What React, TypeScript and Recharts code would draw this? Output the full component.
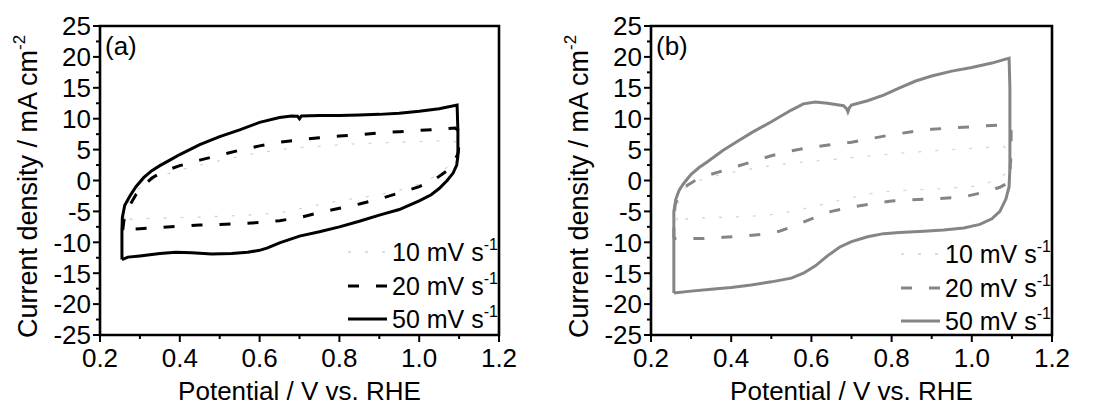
import React from 'react';
import { LineChart, Line, XAxis, YAxis, ReferenceArea, Legend } from 'recharts';

type Pt = [number, number];

// ---- tick values ----
const potentialTicks = [0.2, 0.3, 0.4, 0.5, 0.6, 0.7, 0.8, 0.9, 1.0, 1.1, 1.2];
const currentTicks = [-25, -22.5, -20, -17.5, -15, -12.5, -10, -7.5, -5, -2.5, 0, 2.5, 5, 7.5, 10, 12.5, 15, 17.5, 20, 22.5, 25];
const scanRates = ['10 mV s', '20 mV s', '50 mV s'];
const panelLabels = ['(a)', '(b)'];
const xTitle = 'Potential / V vs. RHE';
const yTitle = 'Current density / mA cm';

// ---- panel (a) : [potential V, current density mA cm-2] ----
const a10: Pt[] = [
  [0.262, -6.3], [0.262, -5], [0.27, -3.5], [0.29, -1.6], [0.32, -0.2], [0.36, 0.9], [0.4, 1.7], [0.45, 2.5],
  [0.5, 3.2], [0.55, 3.9], [0.6, 4.5], [0.65, 5.0], [0.7, 5.3], [0.8, 5.8], [0.9, 6.1], [1.0, 6.3], [1.08, 6.5],
  [1.1, 6.0], [1.1, 4.5], [1.08, 2.8], [1.05, 1.0], [1.0, -0.6], [0.95, -1.6], [0.9, -2.3], [0.85, -2.8],
  [0.8, -3.3], [0.75, -3.9], [0.7, -4.6], [0.65, -5.2], [0.6, -5.5], [0.5, -5.8], [0.4, -6.0], [0.3, -6.2], [0.262, -6.3],
];
const a20: Pt[] = [
  [0.257, -8], [0.26, -6.5], [0.27, -4.5], [0.29, -2.3], [0.31, -0.8], [0.33, 0.4], [0.36, 1.5], [0.4, 2.4],
  [0.45, 3.3], [0.5, 4.1], [0.55, 4.9], [0.6, 5.6], [0.65, 6.2], [0.7, 6.6], [0.75, 6.9], [0.8, 7.2], [0.85, 7.4],
  [0.9, 7.7], [0.95, 7.9], [1.0, 8.1], [1.05, 8.3], [1.09, 8.5], [1.1, 8], [1.1, 6.5], [1.098, 4.5],
  [1.09, 3.3], [1.07, 1.6], [1.04, 0.2], [1.0, -1.0], [0.95, -2.0], [0.9, -3.0], [0.85, -3.8], [0.8, -4.5],
  [0.75, -5.2], [0.7, -6.0], [0.65, -6.5], [0.6, -6.8], [0.55, -7.0], [0.5, -7.1], [0.45, -7.2], [0.4, -7.4],
  [0.35, -7.6], [0.3, -7.8], [0.257, -8],
];
const a50: Pt[] = [
  [0.255, -12.8], [0.255, -8], [0.256, -6], [0.262, -4], [0.275, -2.5], [0.29, -1], [0.31, 0.5], [0.33, 1.6],
  [0.35, 2.4], [0.375, 3.3], [0.4, 4.2], [0.45, 5.8], [0.5, 7.1], [0.55, 8.2], [0.6, 9.4], [0.65, 10.2],
  [0.68, 10.45], [0.695, 10.4], [0.7, 10.0], [0.705, 10.45], [0.75, 10.5], [0.8, 10.5], [0.85, 10.6], [0.9, 10.7],
  [0.95, 10.9], [1.0, 11.2], [1.05, 11.6], [1.095, 12.2], [1.097, 8], [1.097, 4], [1.094, 2.5], [1.085, 1.2],
  [1.07, 0], [1.05, -1.3], [1.03, -2.3], [1.0, -3.3], [0.95, -4.7], [0.9, -5.6], [0.85, -6.6], [0.8, -7.5],
  [0.75, -8.3], [0.7, -9.0], [0.65, -10.1], [0.62, -10.9], [0.6, -11.3], [0.57, -11.6], [0.53, -11.8],
  [0.48, -11.9], [0.43, -11.7], [0.39, -11.6], [0.35, -11.8], [0.3, -12.2], [0.27, -12.4], [0.255, -12.8],
];

// ---- panel (b) ----
const b10: Pt[] = [
  [0.265, -6.5], [0.265, -4.5], [0.27, -2.8], [0.285, -1.2], [0.31, -0.2], [0.35, 0.6], [0.4, 1.3], [0.45, 1.9],
  [0.5, 2.4], [0.55, 2.8], [0.6, 3.1], [0.65, 3.4], [0.7, 3.7], [0.8, 4.3], [0.9, 4.8], [1.0, 5.2], [1.08, 5.5],
  [1.1, 4.5], [1.1, 3], [1.09, 1.5], [1.07, 0.3], [1.03, -0.6], [1.0, -1.0], [0.9, -1.4], [0.8, -1.7],
  [0.75, -2.1], [0.7, -2.8], [0.65, -3.5], [0.6, -4.3], [0.55, -5.0], [0.5, -5.5], [0.45, -5.8], [0.4, -5.9],
  [0.3, -6.1], [0.265, -6.5],
];
const b20: Pt[] = [
  [0.257, -9.4], [0.257, -7], [0.26, -4], [0.27, -2], [0.29, -0.8], [0.31, 0], [0.35, 1.0], [0.4, 2.0],
  [0.45, 3.0], [0.5, 4.0], [0.55, 4.8], [0.6, 5.4], [0.65, 5.8], [0.7, 6.2], [0.75, 6.8], [0.8, 7.4],
  [0.85, 7.9], [0.9, 8.3], [0.95, 8.5], [1.0, 8.7], [1.05, 8.9], [1.09, 9.0], [1.098, 8], [1.098, 6.5],
  [1.097, 4], [1.095, 1], [1.09, -0.4], [1.07, -1.1], [1.03, -1.9], [0.99, -2.5], [0.95, -2.8], [0.9, -3.0],
  [0.85, -3.1], [0.8, -3.3], [0.75, -3.8], [0.7, -4.3], [0.65, -5.0], [0.6, -6.2], [0.56, -7.3], [0.52, -8.2],
  [0.48, -8.7], [0.43, -9.0], [0.38, -9.2], [0.33, -9.4], [0.257, -9.4],
];
const b50: Pt[] = [
  [0.257, -18.2], [0.257, -10], [0.257, -5], [0.262, -3], [0.27, -1.6], [0.28, -0.6], [0.3, 1.0], [0.32, 2.1],
  [0.34, 3.0], [0.38, 4.9], [0.42, 6.5], [0.45, 7.7], [0.5, 9.5], [0.55, 11.4], [0.58, 12.4], [0.61, 12.7],
  [0.64, 12.5], [0.68, 12.1], [0.688, 11.6], [0.691, 11.1], [0.695, 11.8], [0.7, 12.2], [0.74, 12.9],
  [0.78, 13.8], [0.82, 15.0], [0.86, 16.1], [0.9, 16.9], [0.95, 17.7], [1.0, 18.3], [1.05, 19.0], [1.093, 19.8],
  [1.095, 15], [1.095, 8], [1.095, 2], [1.093, -1], [1.085, -3], [1.07, -5], [1.05, -6.2], [1.02, -7.1],
  [0.98, -7.7], [0.93, -8.0], [0.88, -8.2], [0.82, -8.4], [0.78, -8.6], [0.74, -9.1], [0.7, -9.9], [0.67, -10.8],
  [0.64, -12.2], [0.61, -13.8], [0.58, -15.0], [0.55, -15.8], [0.5, -16.4], [0.45, -16.9], [0.4, -17.3],
  [0.35, -17.6], [0.3, -17.9], [0.257, -18.2],
];

const FONT = 'Arial, "Liberation Sans", sans-serif';
const toData = (pts: Pt[]) => pts.map(([v, j]) => ({ v, j }));

const XTick = (props: any) => {
  const { x, y, payload } = props;
  const v = payload.value as number;
  const major = Math.round(v * 10) % 2 === 0;
  return (
    <g>
      <line x1={x} x2={x} y1={y} y2={y + (major ? 7 : 4)} stroke="#000" strokeWidth={2} />
      {major && (
        <text x={x} y={y + 32} textAnchor="middle" fontSize={26} fontFamily={FONT} fill="#000">
          {v.toFixed(1)}
        </text>
      )}
    </g>
  );
};

const YTick = (props: any) => {
  const { x, y, payload } = props;
  const v = payload.value as number;
  const major = v % 5 === 0;
  return (
    <g>
      <line x1={x - (major ? 7 : 4)} x2={x} y1={y} y2={y} stroke="#000" strokeWidth={2} />
      {major && (
        <text x={x - 9} y={y} dy="0.36em" textAnchor="end" fontSize={26} fontFamily={FONT} fill="#000">
          {v}
        </text>
      )}
    </g>
  );
};

const XTitle = (props: any) => {
  const vb = props.viewBox;
  return (
    <text x={vb.x + vb.width / 2} y={vb.y + 65} textAnchor="middle" fontSize={26} fontFamily={FONT} fill="#000">
      {xTitle}
    </text>
  );
};

const YTitle = (props: any) => {
  const vb = props.viewBox;
  const cx = vb.x + vb.width - 73;
  const cy = vb.y + vb.height / 2 + 6;
  return (
    <text x={cx} y={cy} dy="0.36em" transform={`rotate(-90 ${cx} ${cy})`} textAnchor="middle" fontSize={27} fontFamily={FONT} fill="#000">
      {yTitle}
      <tspan dy={-12} fontSize={17}>-2</tspan>
    </text>
  );
};

type Style = { stroke: string; width: number; dash?: string };

const makeLegend = (styles: Style[]) => () => {
  const rows = [22, 56, 89];
  return (
    <svg width={175} height={110} style={{ display: 'block', overflow: 'visible' }}>
      {styles.map((s, i) => (
        <g key={i}>
          <line x1={3} x2={42} y1={rows[i]} y2={rows[i]} stroke={s.stroke} strokeWidth={s.width} strokeDasharray={s.dash} />
          <text x={47} y={rows[i]} dy="0.36em" fontSize={25} fontFamily={FONT} fill="#000">
            {scanRates[i]}
            <tspan dy={-11} fontSize={16}>-1</tspan>
          </text>
        </g>
      ))}
    </svg>
  );
};

type PanelProps = {
  series: Pt[][];
  color: string;
  label: string;
  left: number;
  yAxisWidth: number;
  marginRight: number;
  legendLeft: number;
  legendTop: number;
};

const Panel = ({ series, color, label, left, yAxisWidth, marginRight, legendLeft, legendTop }: PanelProps) => {
  const styles: Style[] = [
    { stroke: '#d4d4d4', width: 1.3, dash: '3 14' },
    { stroke: color, width: 3, dash: '11 17' },
    { stroke: color, width: 3 },
  ];
  return (
    <div style={{ position: 'absolute', left, top: 0 }}>
      <LineChart width={549} height={409} margin={{ top: 26, right: marginRight, bottom: 0, left: 0 }}>
        <XAxis
          dataKey="v"
          type="number"
          domain={[0.2, 1.2]}
          ticks={potentialTicks}
          interval={0}
          allowDataOverflow
          height={74}
          tickSize={0}
          tickMargin={0}
          tickLine={false}
          axisLine={false}
          tick={<XTick />}
          label={XTitle}
        />
        <YAxis
          dataKey="j"
          type="number"
          domain={[-25, 25]}
          ticks={currentTicks}
          interval={0}
          allowDataOverflow
          width={yAxisWidth}
          tickSize={0}
          tickMargin={0}
          tickLine={false}
          axisLine={false}
          tick={<YTick />}
          label={YTitle}
        />
        <ReferenceArea x1={0.2} x2={1.2} y1={-25} y2={25} fill="none" fillOpacity={0} stroke="#000" strokeWidth={2.6} ifOverflow="visible" />
        {series.map((pts, i) => (
          <Line
            key={i}
            data={toData(pts)}
            dataKey="j"
            type="linear"
            stroke={styles[i].stroke}
            strokeWidth={styles[i].width}
            strokeDasharray={styles[i].dash}
            dot={false}
            activeDot={false}
            isAnimationActive={false}
            name={scanRates[i]}
          />
        ))}
        <Legend
          layout="vertical"
          align="center"
          verticalAlign="middle"
          content={makeLegend(styles)}
          wrapperStyle={{ left: legendLeft, top: legendTop, width: 175, height: 110 }}
        />
      </LineChart>
      <div
        style={{
          position: 'absolute',
          left: yAxisWidth + 5,
          top: 33,
          fontSize: 26,
          lineHeight: '26px',
          fontFamily: FONT,
          color: '#000',
        }}
      >
        {label}
      </div>
    </div>
  );
};

export default function App() {
  return (
    <div style={{ position: 'absolute', left: 0, top: 0, width: 1099, height: 409, background: '#fff', overflow: 'hidden' }}>
      <Panel series={[a10, a20, a50]} color="#000" label={panelLabels[0]} left={0} yAxisWidth={100} marginRight={50} legendLeft={345} legendTop={230} />
      <Panel series={[b10, b20, b50]} color="#858585" label={panelLabels[1]} left={549} yAxisWidth={102} marginRight={46} legendLeft={349} legendTop={232} />
    </div>
  );
}
